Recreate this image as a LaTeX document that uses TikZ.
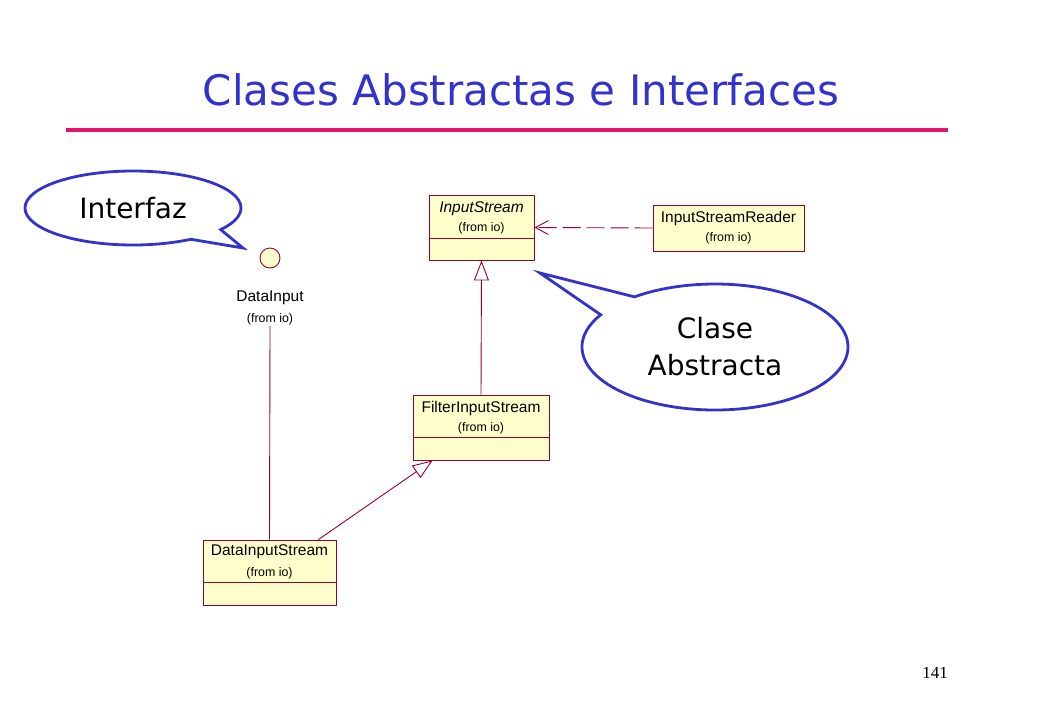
\documentclass[tikz,border=0pt]{standalone}
\usepackage{fontspec}
\newfontfamily\titlefont{DejaVu Sans}
\newfontfamily\umlfont{Liberation Sans}
\newfontfamily\pagefont{Liberation Serif}
\usetikzlibrary{arrows.meta,calc,shapes.callouts,positioning}
\definecolor{titleblue}{RGB}{51,51,204}
\definecolor{rulered}{RGB}{230,20,110}
\definecolor{umlred}{RGB}{150,0,50}
\definecolor{umlfill}{RGB}{255,255,204}
\tikzset{
  classbox/.style={draw=umlred, fill=umlfill, line width=0.9pt, inner sep=0pt},
  classname/.style={font=\umlfont\fontsize{15.5}{18}\selectfont, inner sep=1pt},
  fromio/.style={font=\umlfont\fontsize{12.4}{14}\selectfont, inner sep=1pt},
  divider/.style={draw=umlred, line width=0.9pt},
  genarrow/.style={draw=umlred, line width=0.9pt, -{Triangle[open, length=20pt, width=15pt]}},
  deparrow/.style={draw=umlred, line width=0.9pt, dash pattern=on 18pt off 6pt, -{Straight Barb[length=13pt, width=14pt]}},
  bubble/.style={ellipse callout, draw=titleblue, line width=2.8pt, fill=white, inner sep=0pt, callout pointer arc=22, font=\titlefont\fontsize{28}{37}\selectfont, align=center}
}
\begin{document}
\begin{tikzpicture}[x=1pt, y=-1pt]
    \useasboundingbox (0,0) rectangle (1040,720);

    % Title and rule
    \node[font=\titlefont\fontsize{42}{50}\selectfont, text=titleblue] (title) at (521,90) {Clases Abstractas e Interfaces};
    \draw[rulered, line width=4.5pt] (66,130) -- (948,130);

    % InputStream
    \node[classbox, minimum width=105pt, minimum height=65pt] (instream) at (481.5,227.5) {};
    \node[classname] (instreamname) at (481.5,209) {\textit{InputStream}};
    \node[fromio] (instreamfrom) at (481.5,228) {(from io)};
    \draw[divider] ($(instream.west)+(0,10.5)$) -- ($(instream.east)+(0,10.5)$);

    % InputStreamReader
    \node[classbox, minimum width=151pt, minimum height=46pt] (reader) at (728.5,228) {};
    \node[classname] (readername) at (728.5,218) {InputStreamReader};
    \node[fromio] (readerfrom) at (728.5,238) {(from io)};

    % FilterInputStream
    \node[classbox, minimum width=136pt, minimum height=65pt] (filterstream) at (481,427.5) {};
    \node[classname] (filtername) at (481,408) {FilterInputStream};
    \node[fromio] (filterfrom) at (481,428) {(from io)};
    \draw[divider] ($(filterstream.west)+(0,9.5)$) -- ($(filterstream.east)+(0,9.5)$);

    % DataInputStream
    \node[classbox, minimum width=133pt, minimum height=65pt] (datastream) at (269.5,572.5) {};
    \node[classname] (dataname) at (269.5,552) {DataInputStream};
    \node[fromio] (datafrom) at (269.5,573) {(from io)};
    \draw[divider] ($(datastream.west)+(0,9.5)$) -- ($(datastream.east)+(0,9.5)$);

    % DataInput interface
    \node[circle, classbox, minimum size=20pt] (datainput) at (270,258) {};
    \node[classname] (inputname) at (270,298) {DataInput};
    \node[fromio] (inputfrom) at (270,319) {(from io)};

    % Connectors
    \draw[deparrow] (reader.west) -- (instream.east);
    \draw[genarrow] (filterstream.north) -- (instream.south);
    \draw[genarrow] ([xshift=-18pt]datastream.north east) -- ([xshift=20pt]filterstream.south west);
    \draw[divider] (inputfrom.south) -- (datastream.north);

    % Callouts
    \node[bubble, minimum width=216pt, minimum height=74pt, callout absolute pointer={(243,248)}] (interfaz) at (133,208) {Interfaz};
    \node[bubble, minimum width=266pt, minimum height=126pt, callout absolute pointer={(540,273)}] (abstracta) at (715,347) {Clase\\Abstracta};

    % Page number
    \node[font=\pagefont\fontsize{17}{20}\selectfont] (pagenum) at (935,673) {141};
\end{tikzpicture}
\end{document}
